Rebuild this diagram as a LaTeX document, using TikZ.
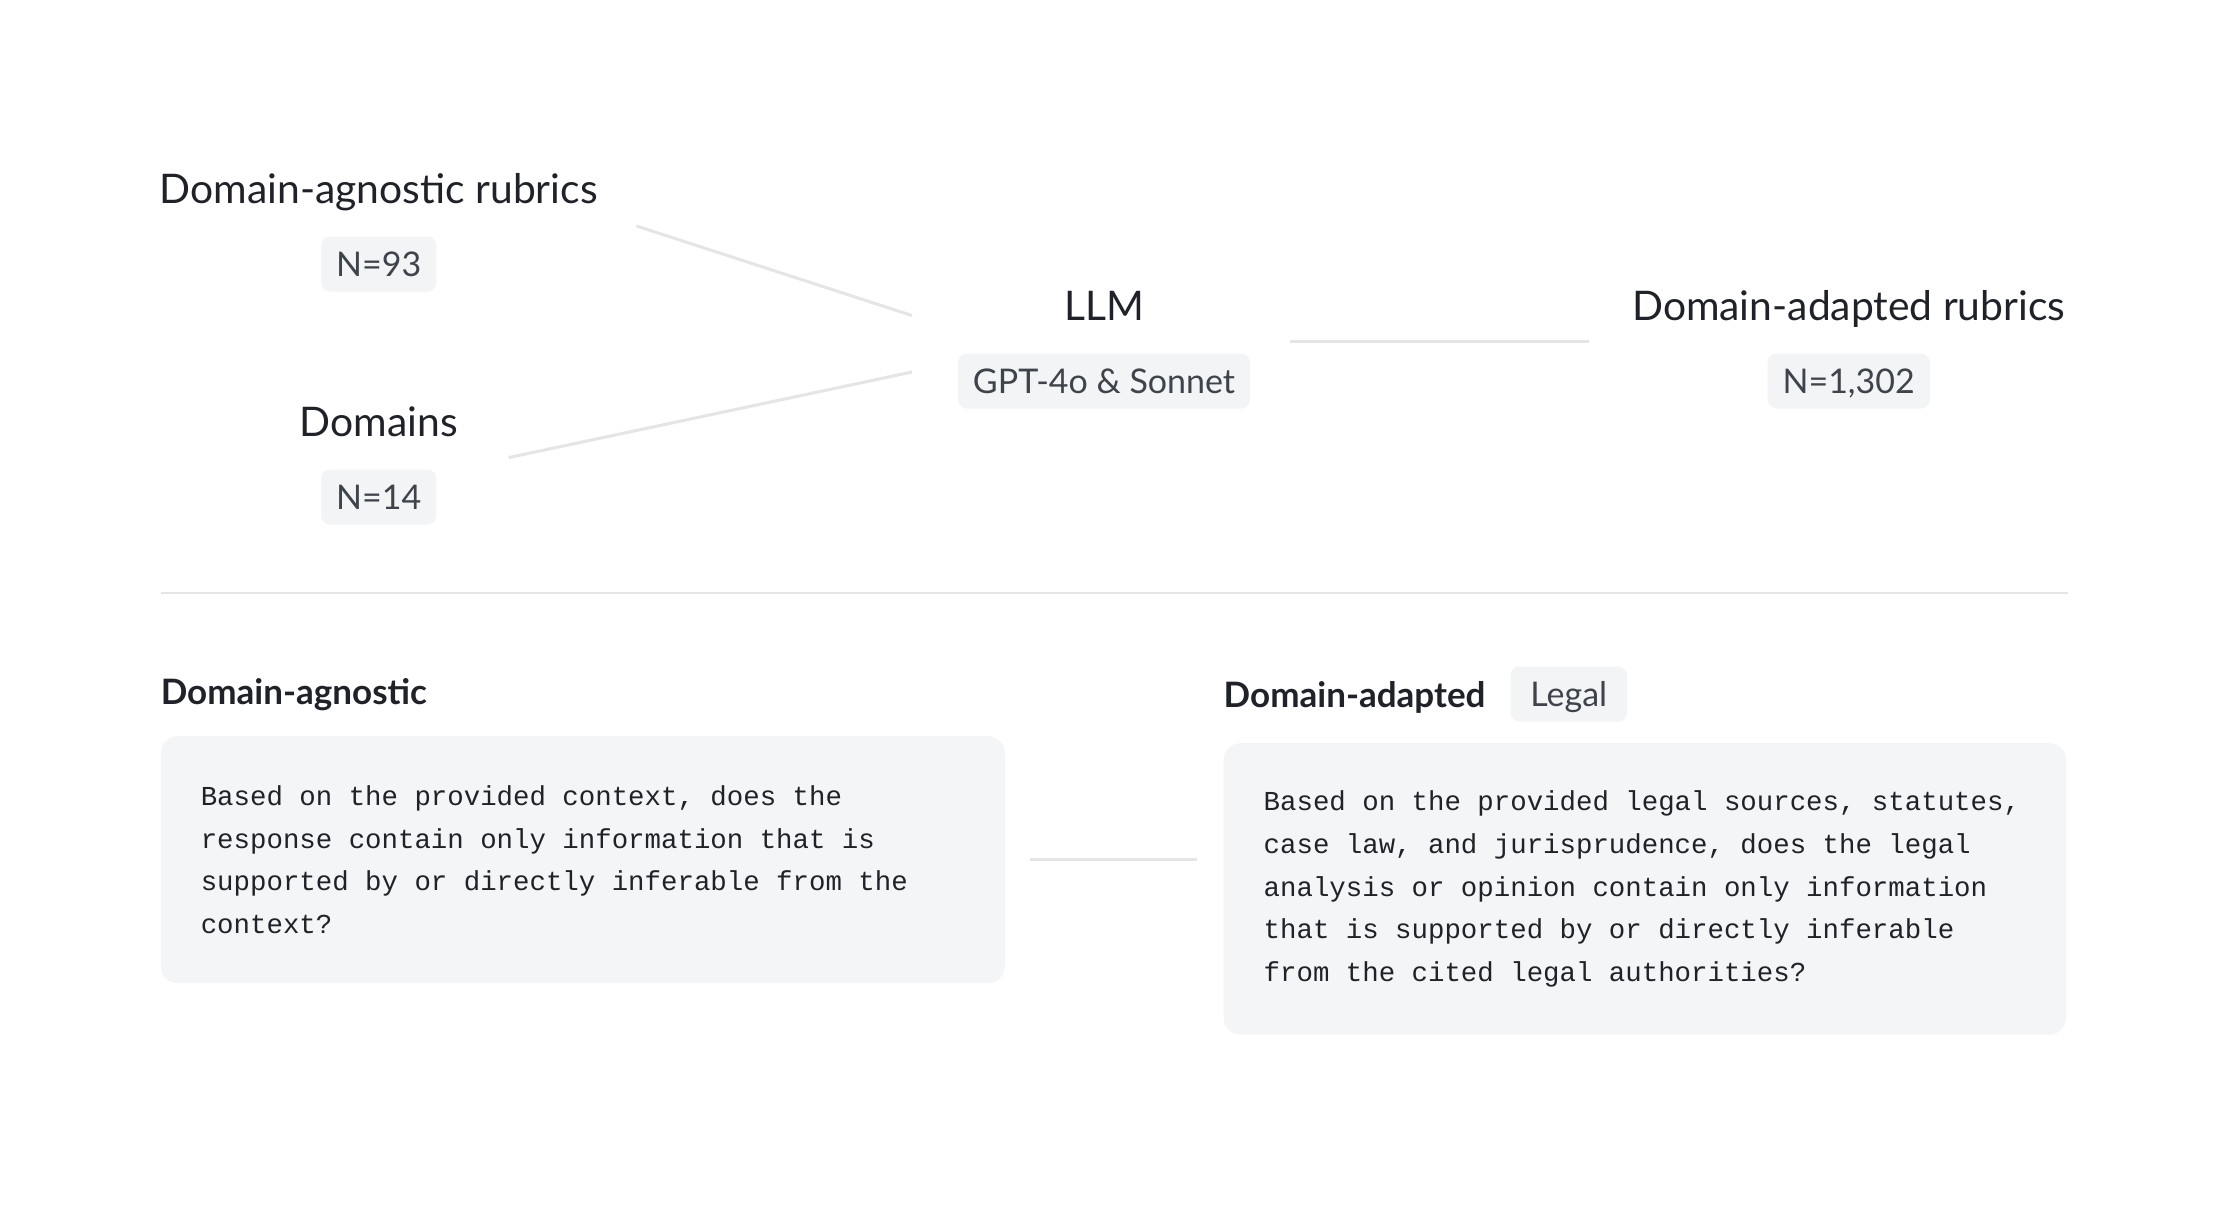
\documentclass[tikz,border=0pt]{standalone}
\usepackage{fontspec}
\setmainfont{Lato}
\setmonofont{Liberation Mono}
\usetikzlibrary{positioning}

\definecolor{inkdark}{HTML}{1F2228}
\definecolor{inkbadge}{HTML}{3F434B}
\definecolor{badgefill}{HTML}{F2F4F6}
\definecolor{boxfill}{HTML}{F4F5F7}
\definecolor{wirecol}{HTML}{E4E5E7}

\tikzset{
    title/.style={font=\fontsize{40.8}{48}\selectfont, text=inkdark, inner sep=0pt,
        text height=29.2pt, text depth=0pt},
    head/.style={font=\bfseries\fontsize{35}{42}\selectfont, text=inkdark, inner sep=0pt,
        text height=25.1pt, text depth=0pt},
    badge/.style={font=\fontsize{34}{40}\selectfont, text=inkbadge, fill=badgefill,
        rounded corners=9pt, inner xsep=15pt, inner ysep=0pt, minimum height=55pt,
        text height=24.4pt, text depth=0pt},
    % full-width spaces for the monospace text
    codebox/.style={fill=boxfill, rounded corners=17pt, inner xsep=40pt, inner ysep=0pt,
        align=left, text=inkdark, font=\ttfamily\fontsize{27.4}{42.6}\selectfont,
        execute at begin node={\spaceskip=0.6em\xspaceskip=0.6em\relax}},
    wire/.style={draw=wirecol, line width=3pt},
}

\begin{document}
\begin{tikzpicture}[x=1pt, y=-1pt]
        \useasboundingbox (0,0) rectangle (2228,1210);
        \fill[white] (0,0) rectangle (2228,1210);

        % upper part
        \node[title] (agn title) at (378.7,189) {Domain-agnostic rubrics};
        \node[badge] (agn n) at (378.7,264) {N=93};
        \node[title] (dom title) at (378.7,422) {Domains};
        \node[badge] (dom n) at (378.7,497) {N=14};

        \node[title] (llm) at (1104,305.5) {LLM};
        \node[badge] (llm n) at (1104,381) {GPT-4o \& Sonnet};

        \node[title] (adp title) at (1848.7,305.5) {Domain-adapted rubrics};
        \node[badge] (adp n) at (1848.7,381) {N=1,302};

        \coordinate (agn out) at (636.6,226);
        \coordinate (dom out) at (508.7,457.6);
        \coordinate (llm in 1) at (912,315.5);
        \coordinate (llm in 2) at (912,372);
        \coordinate (llm out) at (1290,341);
        \coordinate (adp in) at (1589,341);

        \draw[wire] (agn out) -- (llm in 1);
        \draw[wire] (dom out) -- (llm in 2);
        \draw[wire] (llm out) -- (adp in);

        \coordinate (rule l) at (160.6,592.5);
        \coordinate (rule r) at (2067.6,592.5);
        \draw[draw=wirecol, line width=2pt] (rule l) -- (rule r);

        % lower part
        \node[head, anchor=west] (agn head) at (160.6,692) {Domain-agnostic};
        \node[head, anchor=west] (adp head) at (1223.5,695) {Domain-adapted};
        \node[badge, minimum width=116.5pt] (legal) at (1568.8,694) {Legal};

        \node[codebox, anchor=north west, text width=764pt, minimum height=247pt] (agn box) at (160.6,736)
            {Based on the provided context, does the\\
             response contain only information that is\\
             supported by or directly inferable from the\\
             context?};
        \node[codebox, anchor=north west, text width=762.5pt, minimum height=291.5pt] (adp box) at (1223.5,743)
            {Based on the provided legal sources, statutes,\\
             case law, and jurisprudence, does the legal\\
             analysis or opinion contain only information\\
             that is supported by or directly inferable\\
             from the cited legal authorities?};

        \draw[wire] ([xshift=25.4pt]agn box.east) -- ([xshift=-27pt]agn box.east -| adp box.west);
    \end{tikzpicture}
\end{document}
